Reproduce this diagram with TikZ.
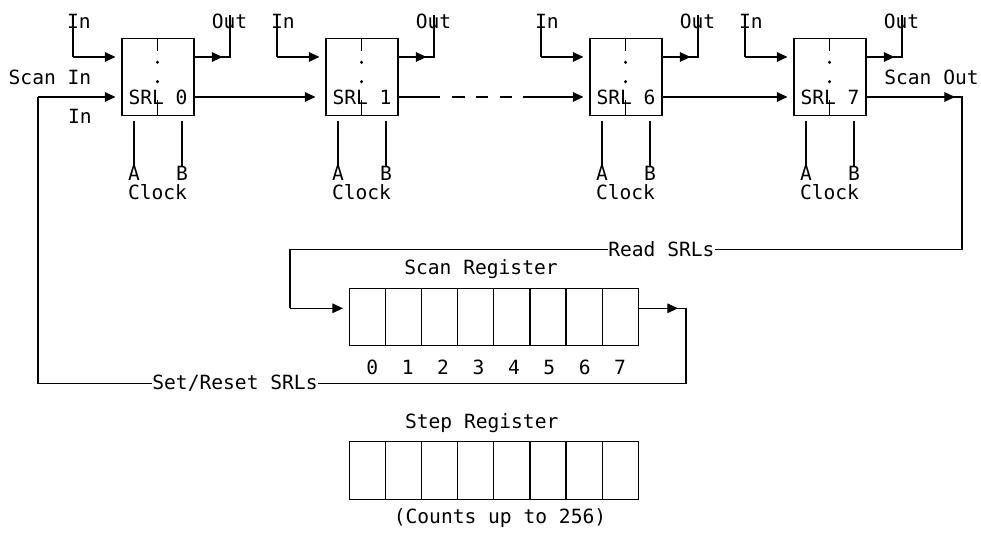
\documentclass[tikz,border=0pt]{standalone}
\usepackage{fontspec}
\newfontfamily\dmono{DejaVu Sans Mono}
\usetikzlibrary{arrows.meta}
\tikzset{
  wire/.style={line width=0.9pt, line cap=butt, line join=miter},
  arr/.style={wire, -{Triangle[length=8pt,width=7.2pt]}},
  srlbox/.style={draw, line width=0.9pt, minimum width=54pt, minimum height=57.75pt, inner sep=0pt},
  regbox/.style={draw, line width=0.9pt, minimum width=216.75pt, minimum height=43pt, inner sep=0pt},
  txt/.style={inner sep=0pt, font=\dmono\fontsize{14.7}{17}\selectfont},
}
\begin{document}
\begin{tikzpicture}[x=0.75pt,y=-0.75pt]
\useasboundingbox (0,0) rectangle (981,534);

% SRL cells
\foreach \xl/\n in {122/0,326/1,590/6,794/7}{
  \node[srlbox] (S\n) at (\xl+36,76.7) {};
  \draw[wire] (\xl+35.5,38.3) -- (\xl+35.5,51);
  \draw[wire] (\xl+35.5,100) -- (\xl+35.5,115);
  \fill (\xl+35.5,62.3) circle (1.7);
  \fill (\xl+35.5,81.7) circle (1.7);
  \node[txt] (L\n) at (\xl+36,97) {SRL \n};
  % In
  \node[txt] (In\n) at (\xl-43.2,21) {In};
  \coordinate (inT\n) at (\xl-49,15);
  \coordinate (inC\n) at (\xl-49,57);
  \coordinate (inE\n) at (\xl-6.5,57);
  \draw[wire] (inT\n) -- (inC\n);
  \draw[arr] (inC\n) -- (inE\n);
  % Out
  \node[txt] (Out\n) at (\xl+107.5,21) {Out};
  \coordinate (oS\n) at (\xl+72,57);
  \coordinate (oA\n) at (\xl+100.5,57);
  \coordinate (oC\n) at (\xl+108,57);
  \coordinate (oT\n) at (\xl+108,15);
  \draw[wire] (oS\n) -- (oC\n) -- (oT\n);
  \draw[arr] (oS\n) -- (oA\n);
  % clocks
  \coordinate (a1\n) at (\xl+12,121);
  \coordinate (a2\n) at (\xl+12,167);
  \coordinate (b1\n) at (\xl+60,121);
  \coordinate (b2\n) at (\xl+60,167);
  \draw[wire] (a1\n) -- (a2\n);
  \draw[wire] (b1\n) -- (b2\n);
  \node[txt] (A\n) at (\xl+12,173.5) {A};
  \node[txt] (B\n) at (\xl+60,173.5) {B};
  \node[txt] (C\n) at (\xl+35.5,192) {Clock};
}

% chain
\coordinate (c0) at (194,97);
\coordinate (c1in) at (315.5,97);
\draw[arr] (c0) -- (c1in);
\coordinate (c1) at (398,97);
\coordinate (d0) at (440,97);
\coordinate (d1) at (452,97);
\coordinate (d2) at (464.5,97);
\coordinate (d3) at (476,97);
\coordinate (d4) at (488,97);
\coordinate (d5) at (500,97);
\coordinate (d6) at (512,97);
\coordinate (d7) at (523,97);
\coordinate (c6in) at (583.5,97);
\draw[wire] (c1) -- (d0);
\draw[wire] (d1) -- (d2);
\draw[wire] (d3) -- (d4);
\draw[wire] (d5) -- (d6);
\draw[arr] (d7) -- (c6in);
\coordinate (c6) at (662,97);
\coordinate (c7in) at (787.5,97);
\draw[arr] (c6) -- (c7in);

% scan in / scan out labels
\node[txt] (scanin) at (50,77.5) {Scan In};
\node[txt] (inlow) at (80,116) {In};
\node[txt] (scanout) at (931.5,77) {Scan Out};

% Scan register
\node[regbox] (SR) at (493.8,316.8) {};
\foreach \k in {1,...,7}{
  \draw[wire] (349.3+36.125*\k,288.3) -- (349.3+36.125*\k,345.3);
}
\node[txt] (SRt) at (481,269) {Scan Register};
\foreach \k in {0,...,7}{
  \node[txt] (dg\k) at (372.3+35.4*\k,367) {\k};
}

% Step register
\node[regbox] (ST) at (493.8,470.5) {};
\foreach \k in {1,...,7}{
  \draw[wire] (349.3+36.125*\k,442) -- (349.3+36.125*\k,499);
}
\node[txt] (STt) at (481.7,423) {Step Register};
\node[txt] (STc) at (500,518) {(Counts up to 256)};

% Read SRLs path
\node[txt] (read) at (661.4,249.3) {Read SRLs};
\coordinate (so7) at (866,97);
\coordinate (soA) at (955,97);
\coordinate (soC) at (962,97);
\coordinate (soD) at (962,249.3);
\coordinate (rL) at (290,249.3);
\coordinate (rD) at (290,308.3);
\coordinate (rA) at (343,308.3);
\draw[wire] (so7) -- (soC) -- (soD) -- (read.east);
\draw[arr] (so7) -- (soA);
\draw[wire] (read.west) -- (rL) -- (rD);
\draw[arr] (rD) -- (rA);

% Set/Reset path
\node[txt] (setr) at (235,383.3) {Set/Reset SRLs};
\coordinate (sr0) at (638.3,308.3);
\coordinate (srA) at (678,308.3);
\coordinate (srC) at (686,308.3);
\coordinate (srD) at (686,383.3);
\coordinate (sl) at (38,383.3);
\coordinate (slU) at (38,97);
\coordinate (slA) at (115.5,97);
\draw[wire] (sr0) -- (srC) -- (srD) -- (setr.east);
\draw[arr] (sr0) -- (srA);
\draw[wire] (setr.west) -- (sl) -- (slU);
\draw[arr] (slU) -- (slA);
\end{tikzpicture}
\end{document}
